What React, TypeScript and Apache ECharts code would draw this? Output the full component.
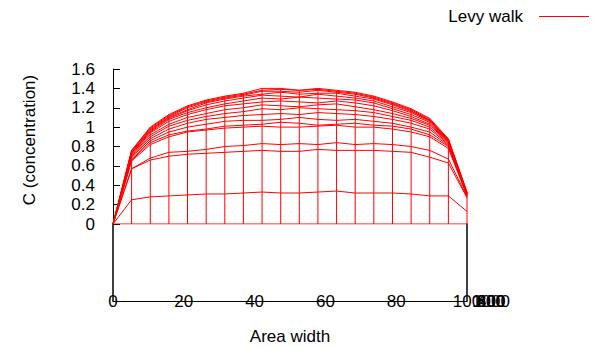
import React, { useEffect, useRef } from "react";
import * as echarts from "echarts";

// Area width positions (20 grid columns from 0 to 100)
const xs = [0, 5.26, 10.53, 15.79, 21.05, 26.32, 31.58, 36.84, 42.11, 47.37, 52.63, 57.89, 63.16, 68.42, 73.68, 78.95, 84.21, 89.47, 94.74, 100];

// Concentration rows of the surface (seen from the front)
const r0 = [0, 0, 0, 0, 0, 0, 0, 0, 0, 0, 0, 0, 0, 0, 0, 0, 0, 0, 0, 0];
const r1 = [0, 0.25, 0.28, 0.29, 0.3, 0.31, 0.31, 0.32, 0.33, 0.32, 0.32, 0.33, 0.34, 0.32, 0.32, 0.32, 0.31, 0.29, 0.29, 0.13];
const r2 = [0, 0.57, 0.66, 0.7, 0.72, 0.73, 0.74, 0.75, 0.76, 0.75, 0.75, 0.77, 0.76, 0.76, 0.76, 0.75, 0.74, 0.69, 0.63, 0.27];
const r3 = [0, 0.57, 0.68, 0.74, 0.75, 0.77, 0.8, 0.81, 0.83, 0.82, 0.83, 0.82, 0.84, 0.82, 0.83, 0.82, 0.8, 0.76, 0.67, 0.28];
const r4 = [0, 0.65, 0.82, 0.9, 0.95, 0.97, 0.99, 1.0, 1.01, 1.0, 1.0, 1.01, 1.02, 1.0, 1.0, 0.98, 0.95, 0.9, 0.78, 0.29];
const r5 = [0, 0.66, 0.84, 0.92, 0.96, 0.98, 1.01, 1.02, 1.03, 1.05, 1.04, 1.02, 1.03, 1.04, 1.02, 1.01, 0.98, 0.92, 0.8, 0.29];
const r6 = [0, 0.67, 0.86, 0.95, 1.0, 1.03, 1.06, 1.07, 1.07, 1.08, 1.1, 1.08, 1.07, 1.08, 1.06, 1.04, 1.0, 0.95, 0.81, 0.3];
const r7 = [0, 0.69, 0.88, 0.98, 1.04, 1.08, 1.1, 1.12, 1.13, 1.14, 1.13, 1.15, 1.14, 1.13, 1.11, 1.08, 1.04, 0.98, 0.82, 0.3];
const r8 = [0, 0.7, 0.9, 1.01, 1.07, 1.11, 1.14, 1.16, 1.19, 1.18, 1.2, 1.19, 1.18, 1.17, 1.15, 1.11, 1.07, 1.0, 0.83, 0.3];
const r9 = [0, 0.71, 0.92, 1.03, 1.1, 1.14, 1.18, 1.2, 1.23, 1.22, 1.21, 1.23, 1.24, 1.21, 1.18, 1.14, 1.09, 1.02, 0.84, 0.31];
const r10 = [0, 0.72, 0.94, 1.06, 1.13, 1.18, 1.22, 1.24, 1.26, 1.27, 1.26, 1.25, 1.27, 1.25, 1.22, 1.17, 1.11, 1.03, 0.85, 0.31];
const r11 = [0, 0.73, 0.95, 1.08, 1.15, 1.2, 1.24, 1.27, 1.3, 1.29, 1.31, 1.3, 1.29, 1.28, 1.25, 1.19, 1.13, 1.05, 0.85, 0.31];
const r12 = [0, 0.74, 0.96, 1.09, 1.17, 1.23, 1.27, 1.3, 1.33, 1.32, 1.31, 1.34, 1.32, 1.3, 1.27, 1.21, 1.15, 1.06, 0.86, 0.32];
const r13 = [0, 0.74, 0.97, 1.1, 1.18, 1.25, 1.29, 1.32, 1.34, 1.36, 1.34, 1.35, 1.35, 1.32, 1.29, 1.23, 1.16, 1.07, 0.86, 0.32];
const r14 = [0, 0.75, 0.98, 1.11, 1.2, 1.26, 1.3, 1.33, 1.37, 1.37, 1.36, 1.38, 1.36, 1.34, 1.3, 1.24, 1.17, 1.07, 0.87, 0.32];
const r15 = [0, 0.76, 0.99, 1.12, 1.21, 1.27, 1.31, 1.34, 1.38, 1.39, 1.38, 1.39, 1.37, 1.35, 1.31, 1.25, 1.18, 1.08, 0.87, 0.33];
const r16 = [0, 0.76, 1.0, 1.13, 1.22, 1.28, 1.32, 1.35, 1.4, 1.4, 1.38, 1.4, 1.38, 1.36, 1.32, 1.26, 1.19, 1.09, 0.88, 0.33];
const rows = [r0, r1, r2, r3, r4, r5, r6, r7, r8, r9, r10, r11, r12, r13, r14, r15, r16];

// Depth-axis tick labels (seen edge-on, they stack on each other)
const depthTicks = ["0", "200", "400", "600", "800", "1000"];

const seriesName = "Levy walk";
const FONT = "'Liberation Sans', Arial, Helvetica, sans-serif";
const RED = "#ff0000";

export default function App() {
  const ref = useRef<HTMLDivElement>(null);

  useEffect(() => {
    const chart = echarts.init(ref.current!, null, { renderer: "svg" });
    const colMax = xs.map((_, i) => Math.max(...rows.map((r) => r[i])));

    const lineSeries = rows.map((r) => ({
      type: "line",
      name: seriesName,
      xAxisIndex: 0,
      yAxisIndex: 0,
      data: xs.map((x, i) => [x, r[i]]),
      symbol: "none",
      silent: true,
      lineStyle: { color: RED, width: 1 },
      itemStyle: { color: RED },
    }));

    const option: any = {
      animation: false,
      backgroundColor: "#fff",
      legend: {
        data: [
          {
            name: seriesName,
            icon: "rect",
            itemStyle: { color: RED, borderWidth: 0 },
            lineStyle: { color: RED },
          },
        ],
        right: 2,
        top: 3,
        align: "right",
        itemWidth: 50,
        itemHeight: 1.2,
        itemStyle: { color: RED, borderWidth: 0 },
        lineStyle: { color: RED },
        textStyle: { fontSize: 17, color: "#000", fontFamily: FONT, padding: [0, 11, 0, 0] },
      },
      grid: [
        { left: 113, top: 69, width: 354, height: 155 },
        { left: 113, top: 224, width: 354, height: 77 },
      ],
      xAxis: [
        { gridIndex: 0, type: "value", min: 0, max: 100, show: false },
        {
          gridIndex: 1,
          type: "value",
          min: 0,
          max: 100,
          interval: 20,
          axisLine: { show: true, lineStyle: { color: "#000", width: 1 } },
          axisTick: { show: false },
          splitLine: { show: false },
          axisLabel: {
            color: "#000",
            fontSize: 17,
            fontFamily: FONT,
            margin: 0,
            verticalAlign: "middle",
          },
          name: "Area width",
          nameLocation: "middle",
          nameGap: 27,
          nameTextStyle: { color: "#000", fontSize: 17, fontFamily: FONT },
        },
      ],
      yAxis: [
        {
          gridIndex: 0,
          type: "value",
          min: 0,
          max: 1.6,
          interval: 0.2,
          axisLine: { show: true, lineStyle: { color: "#000", width: 1 } },
          axisTick: { show: true, inside: true, length: 7, lineStyle: { color: "#000" } },
          splitLine: { show: false },
          axisLabel: { color: "#000", fontSize: 17, fontFamily: FONT, margin: 18 },
        },
        {
          gridIndex: 1,
          type: "value",
          min: 0,
          max: 1,
          position: "left",
          axisLine: { show: true, lineStyle: { color: "#000", width: 1.5 } },
          axisTick: { show: false },
          axisLabel: { show: false },
          splitLine: { show: false },
        },
        {
          gridIndex: 1,
          type: "value",
          min: 0,
          max: 1,
          position: "right",
          axisLine: { show: true, lineStyle: { color: "#000", width: 1.5 } },
          axisTick: { show: false },
          axisLabel: { show: false },
          splitLine: { show: false },
        },
      ],
      graphic: [
        {
          type: "text",
          x: 29,
          y: 140,
          rotation: Math.PI / 2,
          style: {
            text: "C (concentration)",
            fontSize: 17,
            fontFamily: FONT,
            fill: "#000",
            textAlign: "center",
            textVerticalAlign: "middle",
          },
        },
        ...depthTicks.map((t) => ({
          type: "text",
          x: 491,
          y: 301,
          style: {
            text: t,
            fontSize: 17,
            fontFamily: FONT,
            fill: "#000",
            textAlign: "center",
            textVerticalAlign: "middle",
          },
        })),
      ],
      series: [
        {
          type: "custom",
          name: "columns",
          xAxisIndex: 0,
          yAxisIndex: 0,
          silent: true,
          data: xs.map((x, i) => [x, colMax[i]]),
          renderItem: (params: any, api: any) => {
            const x = api.value(0);
            const v = api.value(1);
            const p0 = api.coord([x, 0]);
            const p1 = api.coord([x, v]);
            return {
              type: "line",
              shape: { x1: p0[0], y1: p0[1], x2: p1[0], y2: p1[1] },
              style: { stroke: RED, lineWidth: 1 },
            };
          },
        },
        ...lineSeries,
      ],
    };

    chart.setOption(option);
    return () => chart.dispose();
  }, []);

  return (
    <div
      ref={ref}
      style={{ position: "fixed", left: 0, top: 0, width: 596, height: 347, background: "#fff" }}
    />
  );
}
